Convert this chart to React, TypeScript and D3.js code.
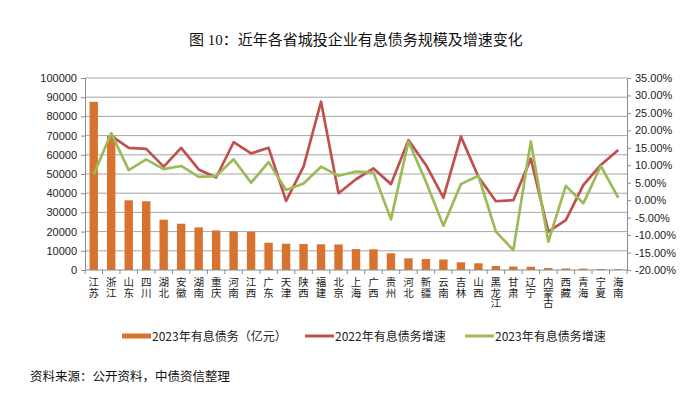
import React, { useEffect, useRef } from 'react';
import * as d3 from 'd3';

const provinces = ['江苏', '浙江', '山东', '四川', '湖北', '安徽', '湖南', '重庆', '河南', '江西', '广东', '天津', '陕西', '福建', '北京', '上海', '广西', '贵州', '河北', '新疆', '云南', '吉林', '山西', '黑龙江', '甘肃', '辽宁', '内蒙古', '西藏', '青海', '宁夏', '海南'];

// 2023年有息债务（亿元）
const debt2023 = [87600, 69800, 36300, 35800, 26200, 24100, 22200, 20600, 20100, 19900, 14200, 13700, 13500, 13400, 13300, 10900, 10800, 8700, 6100, 5700, 5500, 4000, 3500, 2100, 1800, 1700, 1000, 800, 700, 500, 400];

// growth rates, %
const growth2022: (number | null)[] = [null, 18.4, 15.0, 14.7, 9.6, 15.0, 8.8, 6.5, 16.6, 13.4, 15.0, -0.2, 9.6, 28.2, 2.0, 6.0, 9.1, 4.6, 17.2, 10.1, 0.7, 18.2, 6.7, -0.3, 0.0, 11.9, -9.0, -5.7, 4.3, 10.1, 14.4];
const growth2023 = [7.4, 19.2, 8.6, 11.7, 8.9, 9.8, 6.7, 6.9, 11.7, 5.0, 10.9, 2.9, 4.8, 9.6, 7.0, 8.2, 7.9, -5.5, 16.8, 5.3, -7.3, 4.6, 7.0, -9.0, -14.3, 16.8, -11.9, 4.1, -0.9, 9.8, 0.7];

const leftTicks = d3.range(0, 100001, 10000);
const rightTicks = d3.range(-20, 35.01, 5);

const W = 700;
const H = 396;
const cjk = '"Noto Sans CJK SC", sans-serif';
const num = '"Liberation Sans", "DejaVu Sans", sans-serif';

const App = () => {
  const ref = useRef<SVGSVGElement>(null);

  useEffect(() => {
    const svg = d3.select(ref.current);
    svg.selectAll('*').remove();

    const left = 85, right = 627, top = 78, bottom = 270;

    const x = d3.scaleBand().domain(provinces).range([left, right]).paddingInner(0.52).paddingOuter(0.26);
    const xc = (d: string) => (x(d) as number) + x.bandwidth() / 2;
    const yL = d3.scaleLinear().domain([0, 100000]).range([bottom, top]);
    const yR = d3.scaleLinear().domain([-20, 35]).range([bottom, top]);

    svg.append('text')
      .attr('x', 356).attr('y', 45)
      .attr('text-anchor', 'middle')
      .style('font-family', '"Liberation Serif", "Noto Sans CJK SC", serif').style('font-size', '15px').attr('fill', '#111')
      .text('图 10：近年各省城投企业有息债务规模及增速变化');

    // gridlines
    svg.append('g').selectAll('line').data(leftTicks.slice(1)).enter().append('line')
      .attr('x1', left).attr('x2', right)
      .attr('y1', d => yL(d)).attr('y2', d => yL(d))
      .attr('stroke', '#a6a6a6').attr('stroke-width', 1);

    const axL = svg.append('g').attr('transform', `translate(${left},0)`)
      .call(d3.axisLeft(yL).tickValues(leftTicks).tickSize(4).tickPadding(4).tickFormat(d3.format('d')));
    const axR = svg.append('g').attr('transform', `translate(${right},0)`)
      .call(d3.axisRight(yR).tickValues(rightTicks).tickSize(4).tickPadding(4).tickFormat(d => (d as number).toFixed(2) + '%'));
    [axL, axR].forEach(a => {
      a.select('.domain').attr('stroke', '#8c8c8c');
      a.selectAll('.tick line').attr('stroke', '#8c8c8c');
      a.selectAll('.tick text').style('font-family', num).style('font-size', '11px').attr('fill', '#222');
    });

    // bars
    svg.append('g').selectAll('rect').data(provinces).enter().append('rect')
      .attr('x', d => x(d) as number)
      .attr('width', x.bandwidth())
      .attr('y', (d, i) => yL(debt2023[i]))
      .attr('height', (d, i) => bottom - yL(debt2023[i]))
      .attr('fill', '#d8722f');

    // x axis
    const step = x.step();
    svg.append('line').attr('x1', left).attr('x2', right).attr('y1', bottom).attr('y2', bottom).attr('stroke', '#8c8c8c');
    svg.append('g').selectAll('line').data(d3.range(provinces.length + 1)).enter().append('line')
      .attr('x1', i => left + i * step).attr('x2', i => left + i * step)
      .attr('y1', bottom).attr('y2', bottom + 4).attr('stroke', '#8c8c8c');
    // vertical labels
    svg.append('g').selectAll('text').data(provinces).enter().append('text')
      .attr('x', d => xc(d)).attr('y', 277)
      .style('writing-mode', 'vertical-rl')
      .style('font-family', cjk).style('font-size', '10.5px').attr('fill', '#222')
      .text(d => d);

    // lines
    const line = d3.line<number | null>()
      .defined(v => v !== null)
      .x((v, i) => xc(provinces[i]))
      .y(v => yR(v as number));
    svg.append('path').datum(growth2022).attr('d', line)
      .attr('fill', 'none').attr('stroke', '#c0504d').attr('stroke-width', 2.7).attr('stroke-linejoin', 'round');
    svg.append('path').datum(growth2023).attr('d', line)
      .attr('fill', 'none').attr('stroke', '#9bbb59').attr('stroke-width', 2.7).attr('stroke-linejoin', 'round');

    // legend
    const legend = [
      { label: '2023年有息债务（亿元）', color: '#d8722f', x: 122, h: 5 },
      { label: '2022年有息债务增速', color: '#c0504d', x: 305, h: 3 },
      { label: '2023年有息债务增速', color: '#9bbb59', x: 465, h: 3 },
    ];
    const lg = svg.append('g').selectAll('g').data(legend).enter().append('g');
    lg.append('rect').attr('x', d => d.x).attr('y', d => 336 - d.h / 2).attr('width', 29).attr('height', d => d.h).attr('fill', d => d.color);
    lg.append('text').attr('x', d => d.x + 30).attr('y', 340.5)
      .style('font-family', cjk).style('font-size', '12px').attr('fill', '#222')
      .text(d => d.label);

    svg.append('text').attr('x', 30).attr('y', 381)
      .style('font-family', cjk).style('font-size', '12.5px').attr('fill', '#111')
      .text('资料来源：公开资料，中债资信整理');
  }, []);

  return <svg ref={ref} width={W} height={H} style={{ position: 'absolute', left: 0, top: 0, background: '#fff' }} />;
};

export default App;
